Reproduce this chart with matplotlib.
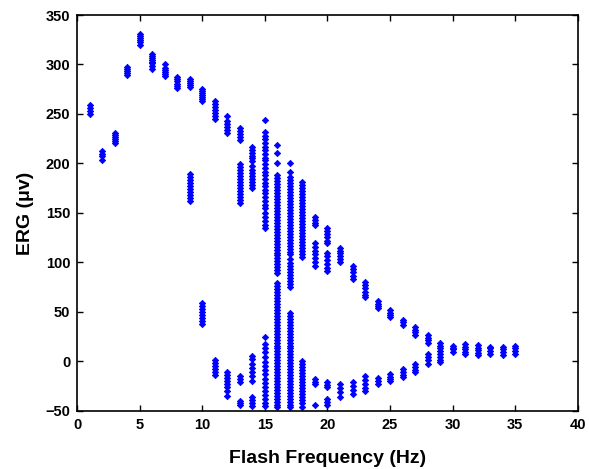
import matplotlib
matplotlib.use("Agg")
import matplotlib.pyplot as plt

freqs = list(range(1, 36))

erg_values = [
    [250, 253, 256, 259],                                   # 1
    [203, 208, 210, 213],                                   # 2
    [221, 223, 225, 227, 229, 231],                         # 3
    [289, 291, 293, 295, 297],                              # 4
    [320, 323, 325, 327, 329, 331],                         # 5
    [295, 298, 301, 303, 305, 307, 309, 311],               # 6
    [288, 290, 292, 294, 296, 300],                         # 7
    [276, 278, 280, 283, 285, 287],                         # 8
    [277, 279, 281, 283, 285,
     162, 165, 168, 171, 174, 177, 180, 183, 186, 189],     # 9
    [263, 265, 267, 269, 271, 273, 275,
     38, 41, 44, 47, 50, 53, 56, 59],                       # 10
    [245, 248, 251, 254, 257, 260, 263,
     -14, -11, -8, -5, -2, 1],                              # 11
    [231, 234, 237, 240, 243, 248,
     -11, -14, -17, -20, -23, -26, -30, -35],               # 12
    [224, 227, 230, 233, 236,
     160, 163, 166, 169, 172, 175, 178, 181, 184, 187, 190, 193, 196, 199,
     -15, -18, -21, -40, -42, -44],                         # 13
    [175, 178, 181, 184, 187, 190, 193, 197, 202, 205, 208, 211, 214, 217,
     5, 2, -3, -7, -11, -15, -20, -36, -39, -42, -45],      # 14
    [244, 232, 228, 225, 221, 217, 214, 210, 206, 203, 199, 195, 191, 188,
     184, 180, 177, 173, 170, 166, 162, 158, 155, 150, 146, 142, 138, 135,
     25, 18, 14, 9, 4, -1, -5, -9, -13, -18, -22, -26, -30, -34, -38, -42, -45],  # 15
    [219, 211, 200, 188, 185, 182, 179, 176, 173, 170, 167, 164, 161, 158,
     155, 152, 149, 146, 143, 140, 137, 134, 131, 128, 125, 122, 119, 116,
     113, 110, 107, 104, 101, 98, 95, 92, 89, 79, 76, 73, 70, 67, 64, 61,
     58, 55, 52, 49, 46, 43, 40, 37, 34, 31, 28, 25, 22, 19, 16, 13, 10, 7,
     4, 1, -2, -5, -8, -11, -14, -17, -20, -23, -26, -29, -32, -35, -38,
     -41, -44, -46],                                        # 16
    [200, 191, 186, 183, 180, 177, 174, 171, 168, 165, 162, 159, 156, 153,
     150, 147, 144, 141, 138, 135, 132, 129, 126, 123, 120, 117, 114, 111,
     108, 103, 99, 96, 93, 90, 87, 84, 81, 78, 75,
     49, 46, 43, 40, 37, 34, 31, 28, 25, 22, 19, 16, 13, 10, 7, 4, 1, -2,
     -5, -8, -11, -14, -17, -20, -23, -26, -29, -32, -35, -38, -41, -44, -46],  # 17
    [181, 178, 175, 172, 169, 166, 163, 160, 157, 154, 151, 148, 145, 142,
     139, 136, 133, 130, 127, 124, 121, 118, 115, 112, 108, 105,
     0, -3, -6, -9, -12, -15, -18, -21, -24, -27, -30, -33, -36, -39, -42, -46],  # 18
    [146, 143, 140, 138, 120, 116, 112, 108, 104, 100, 96,
     -18, -21, -23, -44],                                   # 19
    [135, 132, 129, 126, 122, 120, 110, 106, 102, 98, 94, 91,
     -21, -24, -26, -38, -41, -44],                         # 20
    [115, 112, 109, 106, 103, 100, -23, -27, -31, -36],     # 21
    [96, 93, 90, 86, 83, -21, -25, -29, -33],               # 22
    [80, 77, 74, 70, 67, 65, -15, -19, -23, -27, -30],      # 23
    [61, 58, 56, 54, -17, -20, -23],                        # 24
    [52, 49, 47, 45, -13, -16, -18, -20],                   # 25
    [42, 40, 37, -8, -11, -14, -16],                        # 26
    [35, 32, 30, 27, -3, -6, -9, -11],                      # 27
    [27, 24, 22, 19, 7, 4, 1, -3],                          # 28
    [19, 16, 13, 10, 7, 4, 1, -1],                          # 29
    [16, 14, 12, 9],                                        # 30
    [18, 15, 12, 9, 7],                                     # 31
    [17, 14, 11, 8, 6],                                     # 32
    [15, 13, 10, 7],                                        # 33
    [15, 12, 9, 6],                                         # 34
    [16, 13, 10, 7],                                        # 35
]

x_ticks = [0, 5, 10, 15, 20, 25, 30, 35, 40]
y_ticks = [-50, 0, 50, 100, 150, 200, 250, 300, 350]

xs, ys = [], []
for f, vals in zip(freqs, erg_values):
    for v in vals:
        xs.append(f)
        ys.append(v)

plt.rcParams['font.family'] = ['Liberation Sans', 'DejaVu Sans']

fig = plt.figure(figsize=(5.89, 4.69), dpi=100)
ax = fig.add_axes([0.131, 0.124, 0.850, 0.844])
ax.plot(xs, ys, linestyle='none', marker='D', markersize=3.2,
        color='#0000ff', markeredgecolor='#0000ff', markeredgewidth=0.6)

ax.set_xlim(0, 40)
ax.set_ylim(-50, 350)
ax.set_xticks(x_ticks)
ax.set_yticks(y_ticks)
ax.tick_params(direction='in', top=True, right=True, length=4, width=1,
               labelsize=10.5, pad=5)
for lab in ax.get_xticklabels() + ax.get_yticklabels():
    lab.set_fontweight('bold')
for sp in ax.spines.values():
    sp.set_linewidth(1.2)

ax.set_xlabel('Flash Frequency (Hz)', fontsize=14, fontweight='bold', labelpad=13)
ax.set_ylabel('ERG (μv)', fontsize=14, fontweight='bold', labelpad=8)

fig.savefig('out.png', dpi=100)
